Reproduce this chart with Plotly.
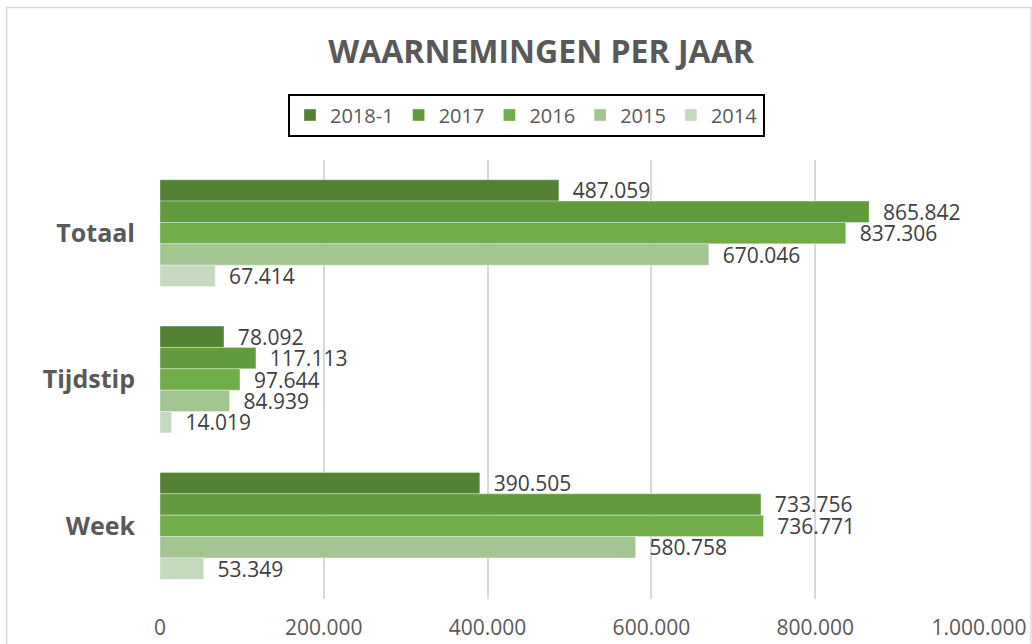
import plotly.graph_objects as go

categories = ["Totaal", "Tijdstip", "Week"]
series_names = ["2018-1", "2017", "2016", "2015", "2014"]
values_2018_1 = [487059, 78092, 390505]
values_2017 = [865842, 117113, 733756]
values_2016 = [837306, 97644, 736771]
values_2015 = [670046, 84939, 580758]
values_2014 = [67414, 14019, 53349]
colors = ["#548235", "#629A3E", "#70AD47", "#A2C592", "#C5D9BE"]
x_ticks = [0, 200000, 400000, 600000, 800000, 1000000]

all_values = [values_2018_1, values_2017, values_2016, values_2015, values_2014]

def fmt(v):
    return f"{v:,}".replace(",", ".")

fig = go.Figure()
for name, vals, col in zip(series_names, all_values, colors):
    fig.add_trace(go.Bar(
        name=name, y=categories, x=vals, orientation="h",
        marker=dict(color=col, line=dict(color="rgba(255,255,255,0.35)", width=1)),
        text=["\u00a0\u00a0" + fmt(v) for v in vals],
        textposition="outside", constraintext="none", cliponaxis=False,
        textfont=dict(family="Open Sans", size=21, color="#404040"),
    ))

L, R, T, B = 160, 53, 160, 45
W, H = 1032, 644
pw, ph = W - L - R, H - T - B

def px_x(p):
    return (p - L) / pw

def px_y(p):
    return (H - B - p) / ph

fig.update_layout(
    width=W, height=H,
    margin=dict(l=L, r=R, t=T, b=B, autoexpand=False),
    paper_bgcolor="white", plot_bgcolor="white",
    barmode="group", bargap=0.27, bargroupgap=0,
    separators=",.",
    font=dict(family="Open Sans", color="#595959"),
    title=dict(text="<b>WAARNEMINGEN PER JAAR</b>", x=541 / W, xanchor="center",
               xref="container", yref="container",
               y=1 - 52 / H, yanchor="middle",
               font=dict(family="Open Sans", size=32, color="#595959")),
    legend=dict(orientation="h", x=px_x(526.5), xanchor="center", y=px_y(115), yanchor="middle",
                bordercolor="black", borderwidth=2, bgcolor="white",
                font=dict(family="Open Sans", size=20, color="#595959"),
                traceorder="normal"),
    showlegend=True,
    xaxis=dict(range=[0, 1000000], tickvals=x_ticks, ticktext=[fmt(v) for v in x_ticks],
               automargin=False,
               showgrid=True, gridcolor="#D9D9D9", gridwidth=1.5, zeroline=False,
               showline=False, ticks="", ticklabelstandoff=14,
               tickfont=dict(family="Open Sans", size=21, color="#595959")),
    yaxis=dict(autorange="reversed", showgrid=False, zeroline=False, showline=False,
               automargin=False,
               ticks="", ticklabelstandoff=24,
               tickfont=dict(family="Open Sans", size=25, color="#595959", weight="bold")),
    shapes=[dict(type="rect", xref="paper", yref="paper",
                 x0=px_x(6.5), x1=px_x(1031), y0=px_y(660), y1=px_y(7.5),
                 line=dict(color="#D9D9D9", width=1.5), fillcolor="rgba(0,0,0,0)", layer="below")],
)

fig.write_html("out.html", config={"displayModeBar": False},
               post_script="document.body.style.margin='0';document.body.style.overflow='hidden';")
